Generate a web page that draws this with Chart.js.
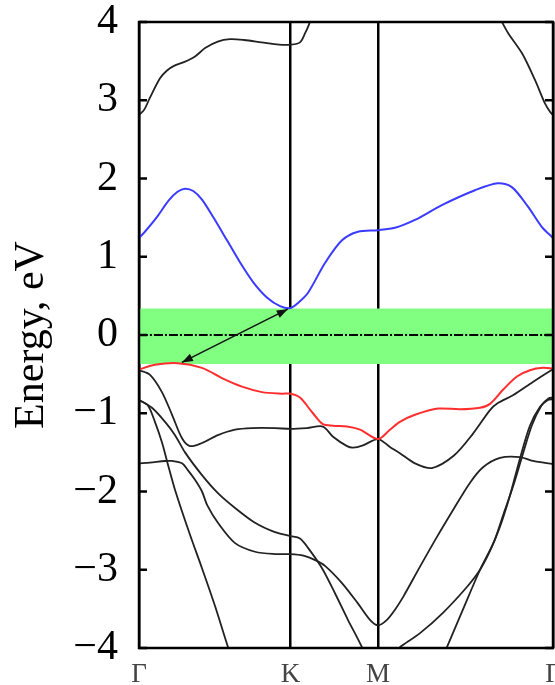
<!DOCTYPE html>
<html>
<head>
<meta charset="utf-8">
<script src="https://cdn.jsdelivr.net/npm/chart.js@4.4.1/dist/chart.umd.min.js"></script>
<style>
  html, body { margin: 0; padding: 0; background: #fff; overflow: hidden; }
  canvas { display: block; }
</style>
</head>
<body>
<canvas id="bande" width="555" height="685"></canvas>
<script>
// Percorso nella zona di Brillouin: Γ - K - M - Γ
const kPos = [0, 0.866, 1.366, 2.366];
const kLabels = ['Γ', 'K', 'M', 'Γ'];
const yTicks = [-4, -3, -2, -1, 0, 1, 2, 3, 4];

// Fascia verde attorno al livello di Fermi
const fasciaTop = 0.34;
const fasciaBottom = -0.37;

// Freccia (gap indiretto) [k, E]
const frecciaDa = [0.85, 0.33];
const frecciaA = [0.245, -0.35];

// Bande di conduzione alte (nere)
const bandaAlta1 = [[0, 2.81], [0.03, 2.88], [0.06, 3.02], [0.12, 3.28], [0.16, 3.38], [0.2, 3.44], [0.26, 3.49], [0.32, 3.56], [0.38, 3.67], [0.45, 3.75], [0.52, 3.78], [0.6, 3.77], [0.7, 3.74], [0.8, 3.71], [0.866, 3.71], [0.92, 3.74], [0.95, 3.86], [0.97, 3.96], [1.0, 4.15], [1.03, 4.35]];
const bandaAlta2 = [[1.99, 4.4], [2.04, 4.15], [2.074, 4.0], [2.109, 3.86], [2.189, 3.6], [2.263, 3.26], [2.32, 2.96], [2.35, 2.85], [2.366, 2.81]];

// Banda di conduzione (blu)
const bandaBlu = [[0, 1.24], [0.03, 1.31], [0.1, 1.50], [0.17, 1.72], [0.22, 1.83], [0.263, 1.87], [0.31, 1.84], [0.36, 1.73], [0.423, 1.51], [0.503, 1.21], [0.577, 0.93], [0.651, 0.68], [0.731, 0.48], [0.806, 0.37], [0.866, 0.345], [0.909, 0.41], [0.966, 0.54], [1.063, 0.92], [1.16, 1.21], [1.251, 1.32], [1.366, 1.34], [1.463, 1.37], [1.577, 1.47], [1.731, 1.66], [1.92, 1.85], [2.051, 1.94], [2.131, 1.89], [2.223, 1.64], [2.303, 1.38], [2.366, 1.24]];

// Banda di valenza (rossa)
const bandaRossa = [[0, -0.44], [0.09, -0.38], [0.223, -0.36], [0.36, -0.42], [0.474, -0.55], [0.589, -0.66], [0.703, -0.73], [0.817, -0.75], [0.866, -0.75], [0.92, -0.80], [0.994, -1.0], [1.051, -1.14], [1.109, -1.16], [1.189, -1.17], [1.263, -1.21], [1.366, -1.33], [1.434, -1.21], [1.491, -1.11], [1.577, -1.02], [1.709, -0.94], [1.834, -0.95], [1.949, -0.93], [2.006, -0.88], [2.08, -0.70], [2.16, -0.53], [2.234, -0.45], [2.309, -0.42], [2.366, -0.43]];

// Bande di valenza basse (nere)
const bandaA = [[0, -0.45], [0.063, -0.51], [0.131, -0.73], [0.189, -1.02], [0.246, -1.32], [0.291, -1.42], [0.36, -1.38], [0.451, -1.28], [0.549, -1.21], [0.646, -1.19], [0.777, -1.19], [0.866, -1.20], [0.96, -1.19], [1.051, -1.17], [1.109, -1.30], [1.189, -1.42], [1.223, -1.44], [1.28, -1.41], [1.366, -1.33], [1.434, -1.43], [1.491, -1.51], [1.577, -1.64], [1.674, -1.70], [1.8, -1.54], [1.909, -1.26], [2.006, -0.96], [2.051, -0.87], [2.137, -0.77], [2.251, -0.60], [2.349, -0.46], [2.366, -0.44]];
const bandaP = [[0, -0.83], [0.051, -0.90], [0.091, -1.11], [0.131, -1.37], [0.166, -1.66], [0.206, -1.98], [0.291, -2.55], [0.36, -2.98], [0.434, -3.46], [0.509, -3.99], [0.55, -4.25]];
const bandaB = [[0, -0.83], [0.074, -0.93], [0.149, -1.11], [0.206, -1.28], [0.263, -1.50], [0.36, -1.79], [0.451, -2.02], [0.549, -2.21], [0.663, -2.40], [0.777, -2.52], [0.866, -2.57], [0.92, -2.60], [0.966, -2.72], [1.046, -2.98], [1.12, -3.30], [1.194, -3.64], [1.274, -3.99], [1.31, -4.2]];
const bandaC = [[0, -1.64], [0.063, -1.63], [0.149, -1.61], [0.189, -1.61], [0.246, -1.64], [0.28, -1.73], [0.32, -1.85], [0.36, -2.0], [0.389, -2.17], [0.451, -2.40], [0.549, -2.66], [0.663, -2.77], [0.777, -2.80], [0.866, -2.80], [0.94, -2.82], [1.01, -2.88], [1.063, -2.95], [1.16, -3.17], [1.251, -3.43], [1.32, -3.64], [1.366, -3.71], [1.417, -3.64], [1.463, -3.51], [1.509, -3.35], [1.606, -2.96], [1.703, -2.58], [1.794, -2.24], [1.891, -1.89], [1.966, -1.69], [2.063, -1.57], [2.177, -1.56], [2.251, -1.61], [2.366, -1.65]];
const bandaD1 = [[1.40, -4.15], [1.491, -3.99], [1.606, -3.81], [1.737, -3.55], [1.874, -3.22], [1.949, -3.0], [2.006, -2.76], [2.063, -2.45], [2.12, -2.05], [2.177, -1.58], [2.234, -1.16], [2.291, -0.92], [2.337, -0.83], [2.366, -0.82]];
const bandaD2 = [[1.72, -4.2], [1.76, -3.99], [1.851, -3.51], [1.949, -3.0], [2.029, -2.64], [2.086, -2.27], [2.137, -1.94], [2.19, -1.55], [2.246, -1.15], [2.30, -0.90], [2.34, -0.81], [2.366, -0.80]];

const punti = arr => arr.map(([x, y]) => ({ x: x, y: y }));
const serif = '"Liberation Serif", "Times New Roman", serif';

function nera(dati) {
    return { data: punti(dati), borderColor: '#222', borderWidth: 1.8, order: 2 };
}

// Disegna la punta di una freccia in (tx, ty) proveniente da (fx, fy)
function punta(ctx, fx, fy, tx, ty) {
    const ang = Math.atan2(ty - fy, tx - fx);
    const L = 11, W = 4;
    ctx.beginPath();
    ctx.moveTo(tx, ty);
    ctx.lineTo(tx - L * Math.cos(ang) + W * Math.sin(ang), ty - L * Math.sin(ang) - W * Math.cos(ang));
    ctx.lineTo(tx - L * Math.cos(ang) - W * Math.sin(ang), ty - L * Math.sin(ang) + W * Math.cos(ang));
    ctx.closePath();
    ctx.fill();
}

// Cornice, tacche interne e punte della freccia
const cornice = {
    id: 'cornice',
    afterDatasetsDraw(chart) {
        const { ctx, chartArea: a, scales: { x, y } } = chart;
        ctx.save();
        ctx.fillStyle = '#111';
        const x1 = x.getPixelForValue(frecciaDa[0]), y1 = y.getPixelForValue(frecciaDa[1]);
        const x2 = x.getPixelForValue(frecciaA[0]), y2 = y.getPixelForValue(frecciaA[1]);
        punta(ctx, x1, y1, x2, y2);
        punta(ctx, x2, y2, x1, y1);

        ctx.strokeStyle = '#000';
        ctx.lineWidth = 2.5;
        ctx.strokeRect(a.left, a.top, a.right - a.left, a.bottom - a.top);
        ctx.beginPath();
        yTicks.forEach(v => {
            const py = y.getPixelForValue(v);
            ctx.moveTo(a.left, py); ctx.lineTo(a.left + 8, py);
            ctx.moveTo(a.right, py); ctx.lineTo(a.right - 8, py);
        });
        ctx.stroke();
        ctx.restore();
    }
};

new Chart(document.getElementById('bande'), {
    type: 'line',
    data: {
        datasets: [
            {
                data: punti([[kPos[0], fasciaTop], [kPos[3], fasciaTop]]),
                borderWidth: 0,
                borderColor: 'rgba(0,0,0,0)',
                backgroundColor: '#80ff80',
                fill: { value: fasciaBottom },
                order: 10
            },
            {
                data: punti([[kPos[0], 0], [kPos[3], 0]]),
                borderColor: '#000',
                borderWidth: 2,
                borderDash: [9, 2, 2, 2],
                order: 5
            },
            nera(bandaAlta1),
            nera(bandaAlta2),
            nera(bandaA),
            nera(bandaP),
            nera(bandaB),
            nera(bandaC),
            nera(bandaD1),
            nera(bandaD2),
            { data: punti(bandaBlu), borderColor: '#3b3bff', borderWidth: 2, order: 1 },
            { data: punti(bandaRossa), borderColor: '#ff2e2e', borderWidth: 2, order: 1 },
            {
                data: punti([frecciaDa, frecciaA]),
                borderColor: '#111',
                borderWidth: 1.5,
                tension: 0,
                order: 0
            }
        ]
    },
    options: {
        responsive: false,
        animation: false,
        devicePixelRatio: 1,
        layout: { padding: { top: 22, right: 2, left: 0, bottom: 0 } },
        elements: {
            point: { radius: 0 },
            line: { tension: 0.3, fill: false }
        },
        plugins: {
            legend: { display: false },
            tooltip: { enabled: false }
        },
        scales: {
            x: {
                type: 'linear',
                min: kPos[0],
                max: kPos[3],
                z: 1,
                afterBuildTicks: scale => { scale.ticks = kPos.map(v => ({ value: v })); },
                afterFit: scale => { scale.height = 37; scale.paddingLeft = 0; scale.paddingRight = 0; },
                ticks: {
                    autoSkip: false,
                    maxRotation: 0,
                    padding: 11,
                    color: '#444',
                    font: { family: serif, size: 27 },
                    callback: (v, i) => kLabels[i]
                },
                grid: { color: '#000', lineWidth: 2.5, drawTicks: false },
                border: { display: false }
            },
            y: {
                min: -4,
                max: 4,
                afterFit: scale => { scale.width = 139; scale.paddingTop = 0; scale.paddingBottom = 0; },
                afterBuildTicks: scale => { scale.ticks = yTicks.map(v => ({ value: v })); },
                ticks: {
                    padding: 21,
                    color: '#000',
                    font: { family: serif, size: 42 },
                    callback: v => (v < 0 ? '\u2212' + Math.abs(v) : String(v))
                },
                grid: { display: false, drawTicks: false },
                border: { display: false },
                title: {
                    display: true,
                    text: 'Energy, eV',
                    color: '#000',
                    font: { family: serif, size: 42 },
                    padding: { top: 7, bottom: 0 }
                }
            }
        }
    },
    plugins: [cornice]
});
</script>
</body>
</html>
